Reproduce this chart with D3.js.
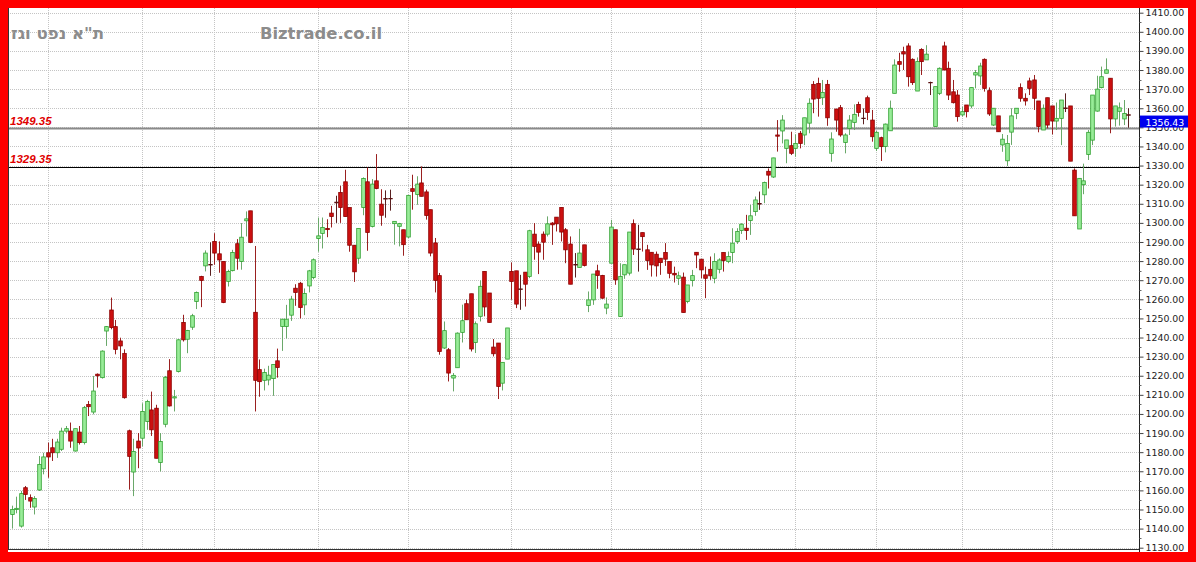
<!DOCTYPE html>
<html><head><meta charset="utf-8">
<script src="https://cdn.jsdelivr.net/npm/d3@7"></script>
<style>html,body{margin:0;padding:0;background:#fff}svg{display:block}</style>
</head><body>
<svg id="chart" width="1196" height="562"></svg>
<script>
const openP = [1147.4,1150,1141.3,1161.4,1156.2,1151.3,1160.2,1171.3,1179.7,1182.3,
1179.7,1181.5,1191,1191,1180.6,1190.5,1185,1204.9,1201,1220.8,
1219,1243.4,1254.4,1245.7,1238.2,1231.7,1191.2,1169.6,1185.8,1187.3,
1196,1202.1,1203,1174.6,1194.6,1222.6,1208.6,1222.2,1247.9,1239.1,
1245.4,1258.9,1271.9,1277.5,1278.1,1290.3,1283.8,1279.8,1269.4,1275,
1289.1,1279.8,1301.1,1306.3,1253.2,1223.2,1217.6,1217.8,1218.5,1227.8,
1245.8,1245.8,1251.7,1265.8,1268.4,1257.1,1267,1271.4,1291.8,1294.5,
1297.1,1305.1,1310.7,1315.9,1321.5,1308,1288.3,1281.5,1308,1321.5,
1298.1,1322,1309.8,1312.5,1312.7,1299.6,1298.2,1296.4,1292.6,1317.9,
1314.8,1320.9,1316.2,1306.9,1289.5,1272.4,1234.5,1233.6,1218.8,1224.2,
1242.7,1257.7,1262.9,1237.4,1251.1,1274.6,1263.3,1235,1237.1,1216.1,
1228.7,1274.6,1274.9,1265.3,1274.2,1272,1294.1,1288.9,1294.1,1294.1,
1299.9,1303,1308.1,1296.4,1288.9,1278.1,1276.7,1288.5,1256.8,1259.7,
1274.9,1272.5,1255.4,1278.9,1296.4,1251,1272.8,1273.7,1299.6,1286.2,
1294.9,1285.9,1284.6,1283.6,1281.5,1284.5,1279.8,1273.6,1271,1271.6,
1258.8,1269.8,1284.6,1281,1272.8,1275.7,1271,1275.7,1284.5,1279.8,
1284.5,1290.2,1296,1297.2,1301.2,1305.9,1310,1314.7,1327,1324,
1346,1348.1,1339,1340.4,1339,1346.9,1346,1352.2,1372.5,1373,
1365.5,1372.5,1336.4,1359.6,1360.3,1342.1,1349.5,1352.6,1362,1354.7,
1365.5,1353.8,1339,1344.6,1340,1348.2,1367.8,1384.4,1389.6,1392.6,
1385.6,1369,1390.8,1385.3,1373.4,1350.4,1367.8,1392.6,1380.9,1368.6,
1366.9,1356.5,1361.7,1361.2,1377.4,1376.9,1385.6,1369.2,1351.2,1356,
1340.8,1332.5,1347.5,1357.3,1370.8,1365.2,1374.3,1374.8,1363.8,1348.6,
1365.5,1361.2,1353.3,1354.7,1360,1361.2,1327.6,1296.8,1320,1335.8,
1343.3,1358.5,1370.8,1378.3,1375.7,1354.4,1358.4,1354.4,1356.43];
const highP = [1152,1156.7,1159.7,1162.3,1157.9,1157,1178,1179.7,1185,1187,
1187,1192.8,1193.7,1195.5,1192.3,1193.7,1204.2,1206.8,1219.9,1221.2,
1233.3,1246,1260.9,1249.2,1239.9,1233.8,1191.8,1187,1190,1205.6,
1207.4,1211.7,1204.8,1190,1219.9,1228.7,1212.6,1239.1,1251.9,1244,
1252.4,1264.1,1272.3,1285.6,1289.8,1294.6,1290.3,1279.8,1275.5,1285.9,
1291.5,1299.9,1306,1306.3,1287.9,1228.5,1223.7,1225.2,1225.9,1234.2,
1249.6,1257.1,1261.8,1267.9,1269.1,1265.7,1275.4,1281.4,1302.8,1302.8,
1301.9,1308.9,1314.2,1319.4,1327.8,1308,1288.3,1297.1,1323.8,1329,
1322.9,1336,1317.6,1317,1317.4,1300.8,1300,1296.4,1314.4,1325.2,
1324.4,1329.6,1317.4,1306.9,1292.1,1273.8,1248.4,1234.5,1221.4,1242.7,
1257.2,1259.8,1262.9,1248.4,1269.9,1274.6,1263.3,1239.2,1237.1,1227,
1245,1279.3,1274.9,1272.8,1274.2,1296.4,1299.9,1290.3,1295.5,1303.4,
1300.4,1303,1308.1,1297.3,1292.9,1284.2,1296.9,1288.5,1264.1,1273.2,
1278.1,1272.8,1261,1301.6,1296.4,1278.9,1278.1,1295.2,1301.8,1299,
1294.9,1288.5,1284.6,1285,1281.5,1289.4,1279.8,1277.1,1274.5,1274,
1267.5,1275.4,1284.6,1281,1277.1,1282.4,1284.1,1281.5,1284.5,1285,
1297.2,1297.2,1299.8,1304.2,1309.4,1313.8,1316.4,1321.6,1328.5,1334.1,
1353.8,1356.4,1343.4,1347.7,1346.3,1348.1,1355,1365.2,1374.2,1376,
1374.8,1374.8,1347.4,1359.6,1361.7,1346.9,1356.4,1362,1363.4,1359.9,
1366.6,1359.1,1348.1,1345.1,1352,1364,1385.6,1389,1392.2,1394,
1386.1,1386.6,1391.4,1393,1373.9,1371.3,1381.4,1394.8,1384.4,1374.8,
1369.5,1360.8,1361.7,1370.8,1380,1383.8,1386.1,1370.9,1360,1356,
1346.5,1346,1360,1360,1373,1367.8,1376,1377.4,1363.8,1362,
1365.5,1361.2,1363,1364.3,1367.8,1361.2,1328.5,1323.3,1331,1348.6,
1366.9,1377,1381.8,1386.1,1375.7,1361.2,1363,1364.3,1360];
const lowP = [1140,1148,1140.5,1155,1150.9,1147.4,1159.7,1168.4,1166.6,1175.4,
1177,1180.6,1190,1182.3,1180.3,1184,1184,1198.9,1199.8,1213.8,
1218.5,1235.6,1244.3,1231.2,1228.6,1208,1160.4,1157,1171.6,1183,
1191.7,1188.5,1176.8,1169.9,1193,1203.9,1201.3,1221.7,1237.9,1231.8,
1244,1254.9,1255.9,1274.6,1272.3,1278.1,1273.9,1258,1266.7,1274.6,
1275.5,1275.5,1292.9,1289.4,1201.3,1209,1212.3,1215,1209.5,1219,
1233,1239.5,1248.7,1256.6,1250,1251.7,1263.6,1270.5,1284.9,1286.6,
1292.5,1297.6,1300,1300,1303.3,1284.9,1269.1,1278.6,1304,1285.4,
1297.6,1317.6,1298.5,1302.7,1306.4,1288.6,1287.7,1282.8,1292.1,1306.9,
1309.5,1313.9,1301.7,1282.5,1263.6,1231,1234,1217,1211.8,1224.2,
1237.4,1249.3,1232.7,1231.9,1248.4,1251.1,1247.9,1230.1,1207.8,1212.3,
1228.7,1259.8,1255.4,1254.5,1256.2,1271.1,1280.7,1273.2,1280.7,1292.9,
1288.5,1295.5,1290.3,1278.9,1267.9,1271.4,1276.7,1277.2,1253.3,1257.1,
1265.5,1260.3,1252.2,1278.9,1267.6,1251,1270.7,1272.5,1283.2,1274.5,
1285,1275.4,1271.9,1271.9,1272.8,1277.5,1271,1268.8,1267.5,1253.1,
1257.9,1266.7,1276.3,1271,1260.6,1270.2,1268.4,1273.6,1274.5,1278.9,
1278.9,1289,1294.2,1291.1,1293.7,1303.7,1306.8,1310.3,1318,1323.5,
1337.3,1341.6,1331.2,1335.5,1334.6,1339,1340.7,1346.9,1357.4,1355.6,
1361.7,1350.8,1332,1347.7,1345.1,1336.4,1346,1348.6,1355.6,1351.6,
1353.8,1342.5,1337.6,1332.4,1336.9,1348.2,1367.8,1379.1,1380,1371.3,
1372.2,1369,1377.4,1385.3,1366.9,1350.4,1366.9,1380,1364.3,1362.5,
1353,1355.6,1355.2,1360,1370.4,1372.2,1368.7,1356,1350.7,1347.7,
1337.2,1329.7,1340.8,1354.3,1363.4,1361.4,1366.9,1359.1,1347.4,1348.6,
1349.5,1346.3,1348.6,1340.7,1358,1332.3,1303.7,1296.8,1315,1332.9,
1340.7,1358.2,1370.4,1378.3,1346.9,1350.4,1350.9,1351.2,1349.8];
const closeP = [1150,1150.6,1158.3,1157.9,1154.4,1155.8,1173.6,1177.5,1177.5,1179.7,
1185.3,1191,1192.3,1185.8,1192.3,1185,1203.3,1203.8,1212,1220,
1232.9,1245.7,1245.2,1233.8,1235.6,1208.5,1177.8,1180.3,1182.2,1201.3,
1206.5,1191.7,1176.8,1185.6,1219.2,1204.2,1209,1238.8,1238.8,1243.7,
1251.4,1263.6,1269.9,1284.2,1278.1,1284.2,1280.6,1258.3,1274.6,1284.5,
1281.5,1292.5,1302.1,1289.8,1217.6,1216.9,1221.7,1220.3,1225.9,1224.3,
1249.6,1249.6,1260.1,1263.6,1255.7,1263,1274.9,1280.7,1293.2,1297.6,
1296.6,1303.3,1310.7,1308,1303.3,1288.3,1274.4,1297.1,1323.2,1295,
1320.3,1318,1304,1312.6,1312.7,1300.8,1299.6,1288.6,1314.4,1316.5,
1320.3,1313.9,1303.9,1284.2,1269.9,1232.7,1243.6,1221.4,1220.2,1242.3,
1248.8,1249.3,1234,1247.2,1266.8,1256,1247.9,1231.5,1214.4,1227,
1245,1269.3,1257.5,1265.3,1267.9,1295.9,1287.7,1284.7,1289.9,1299.5,
1299,1299.5,1295.2,1285.9,1267.9,1278.1,1284.2,1277.7,1259.7,1273.2,
1272.5,1260.6,1257.5,1297.8,1270.2,1272,1278.1,1295.2,1286.3,1286.2,
1292.8,1280.3,1278,1277.5,1279.2,1281,1273.6,1272.8,1272.3,1253.1,
1267.5,1272.4,1283.2,1275.4,1271,1272.3,1279.8,1280.6,1280.3,1282.4,
1289.4,1295.5,1299.3,1296,1303.7,1312,1310,1321.1,1325,1334,
1345.5,1353.8,1343.4,1336.4,1341.6,1341.6,1355,1362.6,1364.8,1365.2,
1368.3,1355,1343.9,1353.8,1346,1346,1353.8,1356.8,1357.8,1354.7,
1357.8,1345.1,1347.4,1339.9,1351.7,1360,1382.6,1383,1388.4,1376.5,
1373.4,1384.4,1384.4,1388.3,1373.4,1371.3,1380.9,1380,1366.9,1362.9,
1355.6,1358.2,1358.2,1370.8,1378.6,1382.1,1370.4,1357,1360,1347.7,
1343.8,1341.6,1356,1360,1365.2,1363.8,1370.4,1365.2,1350.4,1360,
1351.2,1353.3,1354.7,1364.3,1360,1332.3,1303.7,1323.3,1322,1347.4,
1366.9,1370,1376.5,1380.1,1354.4,1361.2,1360.2,1357.3,1356.43];
const priceTicks = d3.range(1130, 1411, 10);
const separatorBars = [8, 29, 45, 68, 88, 111, 133, 153, 174, 192, 211, 231];
const levelValues = [1349.35, 1329.35];
const levelLabels = ["1349.35", "1329.35"];
const lastPrice = 1356.43;
const titleText = "ת\"א נפט וגז";
const brandText = "Biztrade.co.il";

const bars = openP.map((o, i) => ({i, o, h: highP[i], l: lowP[i], c: closeP[i]}));

const svg = d3.select("#chart");
const W = 1196, H = 562;
const plot = {left: 8, top: 8, right: 1139.5, bottom: 549.5};
const x = d3.scaleLinear().domain([0, bars.length - 1]).range([11.7, 1128.3]);
const y = d3.scaleLinear().domain([1130, 1410]).range([547.7, 12.7]);

svg.append("rect").attr("width", W).attr("height", H).attr("fill", "#ff0000");
svg.append("rect").attr("x", 8).attr("y", 8).attr("width", 1180).attr("height", 544).attr("fill", "#ffffff");

const defs = svg.append("defs");
defs.append("clipPath").attr("id", "plotclip").append("rect")
  .attr("x", plot.left).attr("y", plot.top).attr("width", plot.right - plot.left).attr("height", plot.bottom - plot.top);

const g = svg.append("g").attr("clip-path", "url(#plotclip)");

g.selectAll("line.hg").data(priceTicks).join("line")
  .attr("x1", plot.left).attr("x2", plot.right)
  .attr("y1", d => Math.round(y(d)) + 0.5).attr("y2", d => Math.round(y(d)) + 0.5)
  .attr("stroke", "#c4c4c4").attr("stroke-dasharray", "1,1").attr("stroke-width", 1);
g.selectAll("line.vg").data(separatorBars).join("line")
  .attr("x1", d => Math.round(x(d)) + 0.5).attr("x2", d => Math.round(x(d)) + 0.5)
  .attr("y1", plot.top).attr("y2", plot.bottom)
  .attr("stroke", "#c4c4c4").attr("stroke-dasharray", "1,1").attr("stroke-width", 1);

g.append("line").attr("x1", plot.left).attr("x2", plot.right)
  .attr("y1", y(levelValues[0])).attr("y2", y(levelValues[0]))
  .attr("stroke", "#8a8a8a").attr("stroke-width", 2);
g.append("line").attr("x1", plot.left).attr("x2", plot.right)
  .attr("y1", Math.round(y(levelValues[1])) + 0.5).attr("y2", Math.round(y(levelValues[1])) + 0.5)
  .attr("stroke", "#000").attr("stroke-width", 1);

const bw = 3.6;
const cg = g.append("g");
cg.selectAll("line.wick").data(bars).join("line")
  .attr("x1", d => Math.round(x(d.i)) + 0.5).attr("x2", d => Math.round(x(d.i)) + 0.5)
  .attr("y1", d => y(d.h)).attr("y2", d => y(d.l))
  .attr("stroke", d => Math.abs(d.c - d.o) < 0.3 ? "#5a2020" : (d.c > d.o ? "#6aa86a" : "#9a2020"))
  .attr("stroke-width", 1);
cg.selectAll("rect.body").data(bars.filter(d => Math.abs(d.c - d.o) >= 0.3)).join("rect")
  .attr("x", d => Math.round(x(d.i)) + 0.5 - bw / 2)
  .attr("y", d => y(Math.max(d.o, d.c)))
  .attr("width", bw)
  .attr("height", d => Math.max(1.2, Math.abs(y(d.o) - y(d.c))))
  .attr("fill", d => d.c > d.o ? "#98ec98" : "#cc1010")
  .attr("stroke", d => d.c > d.o ? "#2fa02f" : "#8a0000")
  .attr("stroke-width", 0.8);
cg.selectAll("line.doji").data(bars.filter(d => Math.abs(d.c - d.o) < 0.3)).join("line")
  .attr("x1", d => Math.round(x(d.i)) + 0.5 - 2.2).attr("x2", d => Math.round(x(d.i)) + 0.5 + 2.2)
  .attr("y1", d => y(d.c)).attr("y2", d => y(d.c))
  .attr("stroke", "#5a1010").attr("stroke-width", 1.4);

svg.selectAll("text.lvl").data(levelValues).join("text")
  .attr("x", 10).attr("y", d => y(d) - 4)
  .attr("fill", "#e00000").attr("font-family", "Liberation Sans, Arial, sans-serif")
  .attr("font-size", 11.5).attr("font-weight", "bold").attr("font-style", "italic")
  .text((d, k) => levelLabels[k]);

svg.append("line").attr("x1", 8.5).attr("x2", 8.5).attr("y1", 8).attr("y2", 550).attr("stroke", "#333");
svg.append("line").attr("x1", 8).attr("x2", plot.right).attr("y1", 549.5).attr("y2", 549.5).attr("stroke", "#333");
svg.append("line").attr("x1", plot.right).attr("x2", plot.right).attr("y1", 8).attr("y2", 552).attr("stroke", "#222");

const axis = d3.axisRight(y).tickValues(priceTicks).tickFormat(d3.format(".2f")).tickSize(4).tickPadding(2);
const ag = svg.append("g").attr("transform", `translate(${plot.right},0)`).call(axis);
ag.select(".domain").remove();
ag.selectAll(".tick line").attr("stroke", "#444");
ag.selectAll(".tick text").attr("fill", "#222").attr("font-family", "DejaVu Sans, Verdana, sans-serif").attr("font-size", 9.4);
ag.selectAll("line.minor").data(priceTicks.slice(0, -1).map(v => v + 5)).join("line")
  .attr("x1", 0).attr("x2", 2).attr("y1", d => Math.round(y(d)) + 0.5).attr("y2", d => Math.round(y(d)) + 0.5)
  .attr("stroke", "#666");

const ly = y(lastPrice);
svg.append("rect").attr("x", plot.right + 0.5).attr("y", ly + 0.5).attr("width", 48).attr("height", 12).attr("fill", "#0000ee");
svg.append("text").attr("x", plot.right + 6).attr("y", ly + 10.5).attr("fill", "#fff")
  .attr("font-family", "DejaVu Sans, Verdana, sans-serif").attr("font-size", 9.4).text(d3.format(".2f")(lastPrice));

svg.append("text").attr("x", 11).attr("y", 38.5).attr("text-anchor", "start")
  .attr("fill", "#8c8c8c").attr("font-family", "DejaVu Sans, sans-serif").attr("font-weight", "bold")
  .attr("font-size", 16).attr("textLength", 93).attr("lengthAdjust", "spacingAndGlyphs").text(titleText);
svg.append("text").attr("x", 260).attr("y", 38.5)
  .attr("fill", "#8c8c8c").attr("font-family", "DejaVu Sans, Verdana, sans-serif").attr("font-weight", "bold")
  .attr("font-size", 16).attr("textLength", 122).attr("lengthAdjust", "spacingAndGlyphs").text(brandText);
</script>
</body></html>
